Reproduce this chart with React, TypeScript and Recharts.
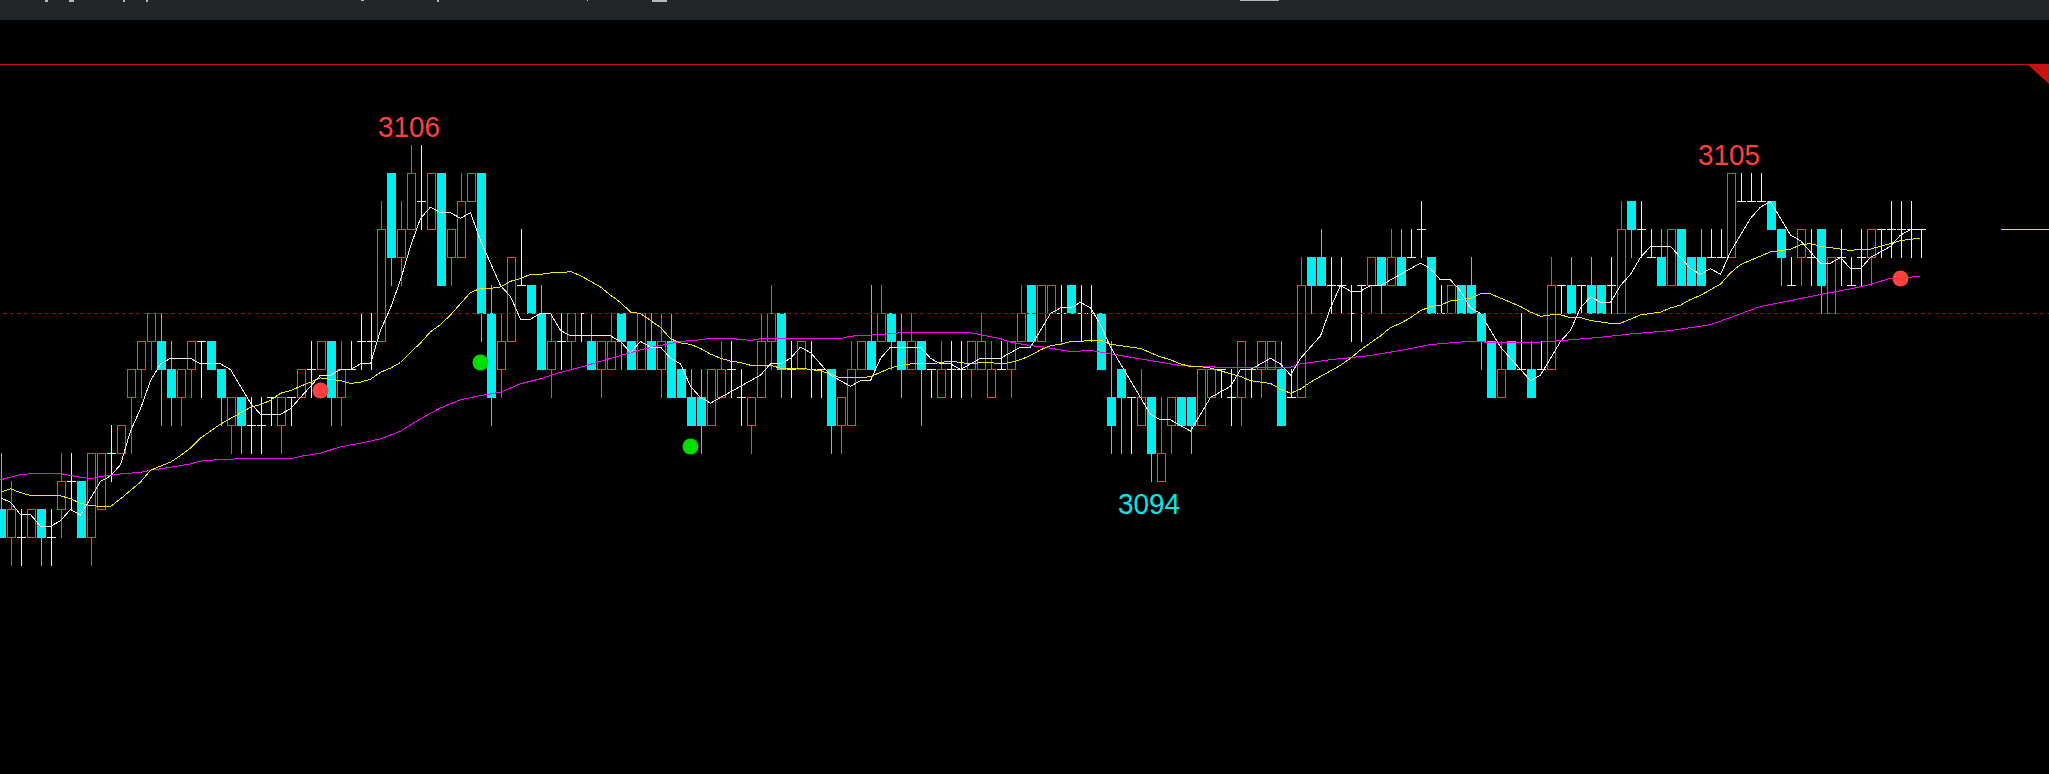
import React from "react";
import { ComposedChart, Bar, Line, XAxis, YAxis, ReferenceLine } from "recharts";

// ---------- data ----------
const OPEN = [
  3093,3092,3092,3092,3093,3092,3093,3094,3094,3092,
  3093,3095,3095,3097,3098,3099,3099,3098,3097,3098,
  3099,3099,3098,3096,3097,3096,3096,3097,3096,3097,
  3097,3098,3098,3099,3097,3098,3099,3099,3099,3105,
  3102,3103,3104,3103,3105,3102,3102,3104,3105,3100,
  3098,3099,3101,3101,3100,3098,3099,3099,3100,3099,
  3098,3098,3100,3099,3098,3099,3098,3099,3098,3097,
  3097,3096,3097,3098,3097,3096,3097,3099,3100,3098,
  3098,3098,3098,3098,3096,3096,3098,3099,3099,3100,
  3099,3098,3099,3098,3097,3098,3098,3098,3098,3097,
  3098,3098,3099,3101,3099,3100,3100,3101,3100,3100,
  3100,3097,3098,3097,3096,3097,3094,3096,3097,3097,
  3096,3097,3098,3097,3097,3098,3098,3098,3098,3097,
  3097,3102,3102,3101,3101,3100,3101,3101,3102,3101,
  3102,3102,3103,3102,3100,3100,3101,3101,3100,3099,
  3097,3099,3098,3098,3098,3098,3101,3101,3101,3101,
  3101,3101,3100,3104,3103,3102,3102,3101,3103,3102,
  3102,3102,3102,3102,3104,3104,3104,3104,3103,3101,
  3102,3102,3103,3100,3102,3101,3102,3102,3103,3103,
  3103,3103,3103,
];
const HIGH = [
  3095,3094,3093,3093,3093,3093,3095,3095,3094,3095,
  3095,3096,3096,3098,3099,3100,3100,3099,3098,3099,
  3099,3099,3098,3097,3097,3097,3097,3097,3097,3097,
  3098,3099,3099,3099,3099,3099,3100,3100,3104,3105,
  3104,3106,3106,3105,3105,3103,3105,3105,3105,3101,
  3100,3102,3103,3101,3101,3100,3100,3100,3100,3100,
  3099,3100,3100,3099,3100,3100,3100,3100,3098,3098,
  3098,3098,3099,3099,3098,3097,3100,3101,3100,3099,
  3099,3099,3098,3098,3097,3099,3099,3101,3101,3100,
  3100,3100,3099,3098,3099,3099,3099,3099,3100,3099,
  3099,3099,3101,3101,3101,3101,3101,3101,3101,3101,
  3100,3099,3098,3097,3098,3097,3097,3097,3097,3097,
  3098,3098,3098,3098,3099,3098,3099,3099,3099,3098,
  3102,3102,3103,3102,3102,3101,3101,3102,3102,3103,
  3103,3103,3104,3102,3101,3101,3101,3102,3100,3099,
  3099,3099,3100,3099,3099,3102,3101,3102,3101,3102,
  3101,3102,3104,3104,3104,3103,3103,3103,3103,3102,
  3103,3103,3103,3105,3105,3105,3105,3104,3103,3102,
  3103,3103,3103,3102,3103,3102,3103,3103,3103,3104,
  3104,3104,3103,
];
const LOW = [
  3092,3091,3091,3092,3091,3091,3092,3093,3092,3091,
  3093,3094,3095,3095,3097,3098,3096,3096,3096,3097,
  3097,3098,3096,3095,3095,3095,3095,3096,3095,3096,
  3097,3097,3098,3096,3096,3098,3098,3098,3099,3101,
  3101,3103,3103,3103,3101,3101,3102,3104,3099,3096,
  3097,3099,3101,3100,3098,3097,3098,3098,3099,3098,
  3097,3098,3098,3098,3098,3098,3097,3097,3097,3096,
  3095,3096,3097,3097,3096,3095,3097,3098,3097,3097,
  3098,3097,3097,3095,3095,3096,3098,3098,3099,3098,
  3097,3098,3096,3097,3097,3097,3097,3097,3098,3097,
  3098,3097,3099,3099,3099,3100,3099,3100,3099,3099,
  3098,3095,3095,3095,3096,3094,3094,3095,3096,3095,
  3096,3097,3097,3096,3096,3097,3097,3098,3096,3097,
  3097,3100,3101,3100,3100,3099,3099,3100,3100,3101,
  3101,3102,3102,3100,3100,3100,3100,3100,3098,3097,
  3097,3098,3098,3097,3098,3098,3100,3100,3100,3100,
  3100,3100,3100,3102,3102,3102,3101,3101,3101,3101,
  3101,3102,3102,3102,3104,3104,3104,3103,3101,3101,
  3101,3101,3100,3100,3101,3101,3101,3101,3102,3102,
  3102,3102,3102,
];
const CLOSE = [
  3092,3093,3092,3093,3092,3092,3094,3094,3092,3095,
  3095,3095,3096,3098,3099,3100,3098,3097,3098,3099,
  3099,3098,3097,3097,3096,3096,3096,3097,3097,3097,
  3098,3098,3099,3097,3098,3098,3099,3099,3103,3102,
  3103,3105,3104,3105,3101,3103,3104,3105,3100,3097,
  3099,3102,3101,3100,3098,3099,3099,3100,3100,3098,
  3099,3099,3099,3098,3100,3098,3099,3097,3097,3096,
  3096,3098,3098,3098,3097,3097,3099,3100,3098,3098,
  3099,3098,3098,3096,3097,3098,3099,3098,3100,3099,
  3098,3099,3098,3098,3098,3098,3098,3099,3099,3098,
  3098,3099,3100,3099,3101,3101,3100,3100,3100,3100,
  3098,3096,3097,3097,3097,3095,3095,3097,3096,3096,
  3098,3098,3098,3097,3099,3098,3099,3099,3096,3097,
  3101,3101,3101,3101,3101,3100,3101,3102,3101,3102,
  3101,3102,3103,3100,3100,3101,3100,3100,3099,3097,
  3098,3098,3098,3097,3098,3101,3101,3100,3101,3100,
  3100,3101,3103,3103,3103,3102,3101,3103,3101,3101,
  3101,3102,3102,3105,3104,3104,3104,3103,3102,3101,
  3103,3102,3101,3102,3102,3101,3102,3103,3103,3103,
  3103,3103,3103,
];
const MA5 = [
  3093.42,3093.26,3092.82,3092.82,3092.4,3092.4,3092.6,3093.0,3092.8,3093.4,
  3094.0,3094.2,3094.6,3095.8,3096.6,3097.6,3098.2,3098.4,3098.4,3098.4,
  3098.2,3098.2,3098.2,3098.0,3097.4,3096.8,3096.4,3096.4,3096.4,3096.6,
  3097.0,3097.4,3097.8,3097.8,3098.0,3098.0,3098.2,3098.2,3099.4,3100.2,
  3101.2,3102.4,3103.4,3103.8,3103.6,3103.6,3103.4,3103.6,3102.6,3101.8,
  3101.0,3100.6,3099.8,3099.8,3100.0,3100.0,3099.4,3099.2,3099.2,3099.2,
  3099.2,3099.2,3099.0,3098.6,3099.0,3098.8,3098.8,3098.4,3098.2,3097.4,
  3097.0,3096.8,3097.0,3097.2,3097.4,3097.6,3097.8,3098.2,3098.2,3098.4,
  3098.8,3098.6,3098.2,3097.8,3097.6,3097.4,3097.6,3097.6,3098.4,3098.8,
  3098.8,3098.8,3098.8,3098.4,3098.2,3098.2,3098.0,3098.2,3098.4,3098.4,
  3098.4,3098.6,3098.8,3098.8,3099.4,3100.0,3100.2,3100.2,3100.4,3100.2,
  3099.6,3098.8,3098.2,3097.6,3097.0,3096.4,3096.2,3096.2,3096.0,3095.8,
  3096.4,3097.0,3097.2,3097.4,3098.0,3098.0,3098.2,3098.4,3098.2,3097.8,
  3098.4,3098.8,3099.2,3100.2,3101.0,3100.8,3100.8,3101.0,3101.0,3101.2,
  3101.4,3101.6,3101.8,3101.6,3101.2,3101.2,3100.8,3100.2,3100.0,3099.4,
  3098.8,3098.4,3098.0,3097.6,3097.8,3098.4,3099.0,3099.4,3100.2,3100.6,
  3100.4,3100.4,3101.0,3101.4,3102.0,3102.4,3102.4,3102.4,3102.0,3101.6,
  3101.4,3101.6,3101.4,3102.2,3102.8,3103.4,3103.8,3104.0,3103.4,3102.8,
  3102.6,3102.2,3101.8,3101.8,3102.0,3101.6,3101.6,3102.0,3102.2,3102.4,
  3102.8,3103.0,3103.0,
];
const MA20 = [
  3093.62,3093.74,3093.6,3093.5,3093.49,3093.49,3093.49,3093.38,3093.23,3093.14,
  3093.11,3093.11,3093.38,3093.68,3093.98,3094.4,3094.55,3094.69,3094.93,3095.2,
  3095.55,3095.8,3096.05,3096.25,3096.45,3096.65,3096.75,3096.9,3097.15,3097.25,
  3097.4,3097.55,3097.7,3097.65,3097.6,3097.5,3097.55,3097.65,3097.9,3098.05,
  3098.25,3098.6,3098.95,3099.35,3099.6,3099.95,3100.35,3100.75,3100.9,3100.9,
  3100.95,3101.15,3101.25,3101.4,3101.4,3101.45,3101.45,3101.5,3101.35,3101.15,
  3100.95,3100.65,3100.4,3100.05,3100.0,3099.75,3099.5,3099.1,3098.95,3098.9,
  3098.75,3098.55,3098.4,3098.3,3098.25,3098.15,3098.15,3098.15,3098.05,3098.05,
  3098.05,3098.0,3097.95,3097.85,3097.7,3097.7,3097.7,3097.75,3097.9,3098.05,
  3098.15,3098.2,3098.2,3098.2,3098.25,3098.3,3098.25,3098.2,3098.25,3098.25,
  3098.2,3098.25,3098.35,3098.5,3098.7,3098.85,3098.9,3099.0,3099.0,3099.05,
  3099.05,3098.9,3098.85,3098.8,3098.75,3098.6,3098.45,3098.35,3098.2,3098.1,
  3098.1,3098.05,3097.95,3097.85,3097.75,3097.6,3097.55,3097.5,3097.3,3097.15,
  3097.3,3097.55,3097.75,3097.95,3098.15,3098.4,3098.7,3098.95,3099.2,3099.5,
  3099.65,3099.85,3100.1,3100.25,3100.3,3100.45,3100.5,3100.55,3100.7,3100.7,
  3100.55,3100.4,3100.25,3100.05,3099.9,3099.95,3099.95,3099.85,3099.85,3099.75,
  3099.7,3099.65,3099.65,3099.8,3099.95,3100.0,3100.05,3100.2,3100.3,3100.5,
  3100.65,3100.85,3101.05,3101.45,3101.75,3101.9,3102.05,3102.2,3102.25,3102.3,
  3102.45,3102.5,3102.4,3102.35,3102.3,3102.25,3102.3,3102.3,3102.4,3102.5,
  3102.6,3102.65,3102.7,
];
// slow average, read at sample candles: [candle index, value]
const MA60_POINTS: [number, number][] = [
  [0,3094.06],[2,3094.25],[4,3094.3],[6,3094.28],[8,3094.15],[9,3094.1],[10,3094.18],
  [12,3094.27],[14,3094.33],[15,3094.4],[17,3094.51],[19,3094.63],[20,3094.73],[22,3094.79],
  [24,3094.81],[29,3094.81],[30,3094.9],[32,3095.01],[34,3095.24],[36,3095.37],[38,3095.52],
  [40,3095.8],[42,3096.24],[44,3096.63],[46,3096.92],[48,3097.07],[50,3097.19],[52,3097.49],
  [54,3097.67],[56,3097.9],[58,3098.08],[60,3098.29],[62,3098.5],[64,3098.7],[66,3098.86],
  [68,3099.0],[70,3099.06],[71,3099.12],[73,3099.11],[75,3099.04],[76,3099.1],[84,3099.1],
  [85,3099.19],[88,3099.25],[90,3099.31],[97,3099.31],[98,3099.24],[100,3099.1],[101,3098.98],
  [103,3098.85],[104,3098.82],[107,3098.64],[109,3098.68],[112,3098.5],[115,3098.32],
  [118,3098.14],[122,3098.08],[125,3098.06],[129,3098.08],[130,3098.2],[133,3098.35],
  [137,3098.5],[140,3098.68],[143,3098.89],[147,3099.01],[150,3098.95],[153,3098.95],
  [157,3099.06],[160,3099.15],[163,3099.27],[164,3099.3],[167,3099.39],[171,3099.6],
  [174,3099.99],[176,3100.25],[179,3100.46],[182,3100.68],[185,3100.88],[187,3101.04],
  [189,3101.26],[192,3101.32],
];
const RED_SIGNALS: [number, number][] = [[32, 3097.25], [190, 3101.25]];
const GREEN_SIGNALS: [number, number][] = [[48, 3098.25], [69, 3095.25]];
const HIGH_MARKS: [number, number][] = [[41, 3106], [173, 3105]];
const LOW_MARKS: [number, number][] = [[115, 3094]];
const REF_PRICE = 3100;
const LAST_PRICE = 3103;
const TAG_FROM = 200;

// ---------- layout / style ----------
const SLOTS = 206;
const Y_MIN = 3084;
const Y_MAX = 3111;
const RED = "#ff3c3c";
const CYAN = "#00eeee";
const DOJI = "#f2f2f2";

const rows: any[] = Array.from({ length: SLOTS }, (_, i) => {
  const r: any = { i };
  if (i < OPEN.length) {
    r.o = OPEN[i];
    r.h = HIGH[i];
    r.l = LOW[i];
    r.c = CLOSE[i];
    r.range = [Y_MIN, HIGH[i]];
    r.ma5 = MA5[i];
    r.ma20 = MA20[i];
  }
  if (i >= TAG_FROM) r.tag = LAST_PRICE;
  return r;
});
MA60_POINTS.forEach(([i, v]) => (rows[i].ma60 = v));
RED_SIGNALS.forEach(([i, v]) => (rows[i].redSig = v));
GREEN_SIGNALS.forEach(([i, v]) => (rows[i].greenSig = v));
HIGH_MARKS.forEach(([i, v]) => (rows[i].hiMark = v));
LOW_MARKS.forEach(([i, v]) => (rows[i].loMark = v));

function Candle(props: any) {
  const { x, y, width, height, payload } = props;
  if (!payload || payload.o == null || !(height > 0)) return <g />;
  const { o, h, l, c } = payload;
  const ppu = height / (h - Y_MIN);
  const yOf = (p: number) => y + (h - p) * ppu;
  const cx = x + width / 2;
  const yH = yOf(h) - 0.5;
  const yL = yOf(l) + 0.5;
  if (c > o) {
    const top = yOf(c);
    const bot = yOf(o);
    return (
      <g shapeRendering="crispEdges">
        {h > c && <line x1={cx} x2={cx} y1={yH} y2={top} stroke={RED} />}
        {l < o && <line x1={cx} x2={cx} y1={bot} y2={yL} stroke={RED} />}
        <rect x={cx - 4} y={top} width={8} height={bot - top} fill="none" stroke={RED} />
      </g>
    );
  }
  if (c < o) {
    const top = yOf(o);
    const bot = yOf(c);
    return (
      <g shapeRendering="crispEdges">
        <line x1={cx} x2={cx} y1={yH} y2={yL} stroke={CYAN} />
        <rect x={cx - 4.5} y={top - 0.5} width={9} height={bot - top + 1} fill={CYAN} />
      </g>
    );
  }
  const yc = yOf(c);
  return (
    <g shapeRendering="crispEdges">
      <line x1={cx} x2={cx} y1={yH} y2={yL} stroke={DOJI} />
      <line x1={cx - 4.5} x2={cx + 4.5} y1={yc} y2={yc} stroke={DOJI} />
    </g>
  );
}

const signalDot = (color: string) => (p: any) => {
  const k = `s${color}${p.index}`;
  if (p.value == null || p.cy == null || isNaN(p.cy)) return <g key={k} />;
  return <circle key={k} cx={p.cx} cy={p.cy} r={8} fill={color} />;
};

const markDot = (color: string, below: boolean) => (p: any) => {
  const k = `m${color}${p.index}`;
  if (p.value == null || p.cy == null || isNaN(p.cy)) return <g key={k} />;
  return (
    <text
      key={k}
      x={p.cx - 1.5}
      y={below ? p.cy + 32 : p.cy - 8.5}
      textAnchor="middle"
      fill={color}
      fontSize={29}
      fontFamily="'Liberation Sans', Arial, sans-serif"
      textLength={62}
      lengthAdjust="spacingAndGlyphs"
    >
      {String(p.value)}
    </text>
  );
};

const TOP_MARKS: [number, number, number][] = [
  [45, 3, 2], [69, 5, 2], [123, 2, 2], [146, 2, 2], [361, 3, 1], [437, 2, 2], [587, 1, 1], [652, 15, 2], [1240, 39, 1],
];

export default function App() {
  return (
    <div
      style={{
        position: "fixed",
        left: 0,
        top: 0,
        width: 2049,
        height: 774,
        background: "#000",
        overflow: "hidden",
      }}
    >
      <div style={{ position: "absolute", left: 0, top: 0, width: 2049, height: 20, background: "#232629" }} />
      {TOP_MARKS.map(([x, w, h], k) => (
        <div key={k} style={{ position: "absolute", left: x, top: 0, width: w, height: h, background: "#b8b8b8" }} />
      ))}
      <div style={{ position: "absolute", left: 0, top: 64, width: 2049, height: 1, background: "#c8120e" }} />
      <svg style={{ position: "absolute", left: 0, top: 0 }} width={2049} height={774}>
        <polygon points="2027,64 2049,64 2049,84" fill="#c8120e" />
      </svg>
      <div style={{ position: "absolute", left: -5, top: 0 }}>
        <ComposedChart
          width={2061}
          height={774}
          data={rows}
          margin={{ top: 5.5, right: 0.5, bottom: 12.5, left: 0.5 }}
        >
          <XAxis dataKey="i" type="category" hide />
          <YAxis hide type="number" domain={[Y_MIN, Y_MAX]} allowDataOverflow />
          <ReferenceLine y={REF_PRICE} stroke="#8c1212" strokeDasharray="4 3" shapeRendering="crispEdges" />
          <Bar dataKey="range" barSize={9} shape={Candle} isAnimationActive={false} />
          <Line type="linear" dataKey="ma60" stroke="#ff00ff" strokeWidth={1} shapeRendering="crispEdges" dot={false} activeDot={false} connectNulls isAnimationActive={false} />
          <Line type="linear" dataKey="ma20" stroke="#e6e619" strokeWidth={1} shapeRendering="crispEdges" dot={false} activeDot={false} isAnimationActive={false} />
          <Line type="linear" dataKey="ma5" stroke="#eeeeee" strokeWidth={1} shapeRendering="crispEdges" dot={false} activeDot={false} isAnimationActive={false} />
          <Line type="linear" dataKey="tag" stroke="#e6e619" strokeWidth={1} shapeRendering="crispEdges" dot={false} activeDot={false} isAnimationActive={false} />
          <Line dataKey="redSig" stroke="none" dot={signalDot("#ff4040")} activeDot={false} isAnimationActive={false} />
          <Line dataKey="greenSig" stroke="none" dot={signalDot("#00dd00")} activeDot={false} isAnimationActive={false} />
          <Line dataKey="hiMark" stroke="none" dot={markDot("#ff4040", false)} activeDot={false} isAnimationActive={false} />
          <Line dataKey="loMark" stroke="none" dot={markDot("#00e8e8", true)} activeDot={false} isAnimationActive={false} />
        </ComposedChart>
      </div>
    </div>
  );
}
